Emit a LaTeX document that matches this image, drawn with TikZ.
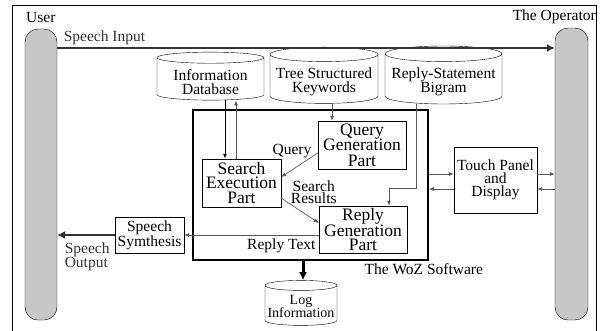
\documentclass[tikz,border=0pt]{standalone}
\usepackage{fontspec}
\setmainfont{Liberation Serif}
\usetikzlibrary{shapes.geometric,arrows.meta}

\begin{document}
\begin{tikzpicture}[x=1pt,y=-1pt,>={Latex[length=5pt,width=4pt]},
  txt/.style={font=\fontsize{15.5}{15}\selectfont,align=center,inner sep=0pt},
  box/.style={draw,txt},
  part/.style={draw,align=center,inner sep=0pt,font=\fontsize{17.5}{15.5}\selectfont,
    minimum width=88,minimum height=48},
  db/.style={draw,txt,cylinder,shape border rotate=90,aspect=0.15,
    font=\fontsize{15.5}{14}\selectfont,text height=31pt,minimum width=107,minimum height=40},
  pillar/.style={draw,fill=black!22,rounded corners=13pt,minimum width=32,minimum height=291},
  conn/.style={draw=black!65,line width=0.7pt},
  big/.style={-{Latex[length=8pt,width=8pt]}}]
  \useasboundingbox (0,0) rectangle (601,330);
  \draw (12,340) -- (12,5) -- (596,5) -- (596,340);
  % the two sides
  \node[pillar] (user) at (41,174.5) {};
  \node[pillar,minimum width=33,minimum height=292] (op) at (571.5,174) {};
  \node[txt,anchor=west] (userlbl) at (26,17) {User};
  \node[txt,anchor=east] (oplbl) at (596,17) {The Operator};
  % data
  \node[db] (infodb) at (210.5,79) {Information\\Database};
  \node[db,minimum width=108] (treekw) at (324,79) {Tree Structured\\Keywords};
  \node[db,minimum width=117] (bigram) at (443.5,79) {Reply-Statement\\Bigram};
  \node[db,minimum width=72,minimum height=45,text height=25pt,font=\fontsize{14}{13}\selectfont] (logdb) at (301,305.5) {Log\\Information};
  % the software
  \node[draw,line width=1.6pt,minimum width=235,minimum height=150] (woz) at (310.5,185) {};
  \node[txt,anchor=north] (wozlbl) at ([xshift=-5pt,yshift=-3pt]woz.south east) {The WoZ Software};
  \node[part] (querygen) at (362,145) {Query\\Generation\\Part};
  \node[part,minimum width=79,font=\fontsize{17.5}{14.5}\selectfont] (search) at (241.5,183) {Search\\Execution\\Part};
  \node[part,minimum height=47,font=\fontsize{17.5}{14.5}\selectfont] (replygen) at (363,229.5) {Reply\\Generation\\Part};
  \node[box,minimum width=83,minimum height=66,font=\fontsize{15.5}{13}\selectfont] (touch) at (495.5,180) {Touch Panel\\and\\Display};
  \node[box,minimum width=69,minimum height=36] (speech) at (149.5,235) {Speech\\Symthesis};
  \coordinate (inlevel) at (0,48);
  \coordinate (tpa) at ([yshift=6pt]touch.west);
  \coordinate (tpb) at ([yshift=-9pt]touch.west);
  \coordinate (tpc) at ([yshift=6pt]touch.east);
  \coordinate (tpd) at ([yshift=-9pt]touch.east);
  % connectors
  \draw[big,line width=1.1pt,black!80] (user.east |- inlevel) -- (op.west |- inlevel)
    node[pos=0,txt,anchor=south west,xshift=6pt,yshift=3pt] (inlbl) {Speech Input};
  \draw[->,line width=1pt] ([xshift=-16.5pt]search.north |- infodb.south) -- ([xshift=-16.5pt]search.north);
  \draw[->,conn] ([xshift=-5.5pt]search.north) -- ([xshift=-5.5pt]search.north |- infodb.south);
  \draw[->,conn] ([xshift=-30pt]querygen.north |- treekw.south) -- ([xshift=-30pt]querygen.north);
  \draw[->,conn] ([xshift=53pt]replygen.north |- bigram.south) -- ++(0,84) -| ([xshift=26pt]replygen.north);
  \draw[->,conn] ([yshift=-8pt]querygen.west) -- ([yshift=6pt]search.east)
    node[pos=0.25,txt,anchor=south east,xshift=3pt,yshift=1pt] (querylbl) {Query};
  \draw[->,conn] ([yshift=-15pt]search.east) -- ([yshift=6.5pt]replygen.west)
    node[pos=0.25,txt,anchor=south west,font=\fontsize{15.5}{12.5}\selectfont] (resultlbl) {Search\\Results};
  \draw[->,conn] (replygen.west |- speech.east) -- (speech.east)
    node[pos=0,txt,anchor=north east,xshift=-3pt,yshift=-3pt] (replylbl) {Reply Text};
  \draw[big,line width=1.1pt,black!80] (speech.west) -- (user.east |- speech.west)
    node[pos=1,txt,anchor=north west,align=left,xshift=7pt,yshift=-7pt,font=\fontsize{15.5}{13}\selectfont] (outlbl) {Speech\\Output};
  \draw[->,conn] (woz.east |- tpa) -- (tpa);
  \draw[->,conn] (tpb) -- (woz.east |- tpb);
  \draw[->,conn] (tpc) -- (op.west |- tpc);
  \draw[->,conn] (op.west |- tpd) -- (tpd);
  \draw[big,line width=3pt] ([xshift=2pt]logdb.north |- woz.south) -- ([xshift=2pt]logdb.north);
\end{tikzpicture}
\end{document}
